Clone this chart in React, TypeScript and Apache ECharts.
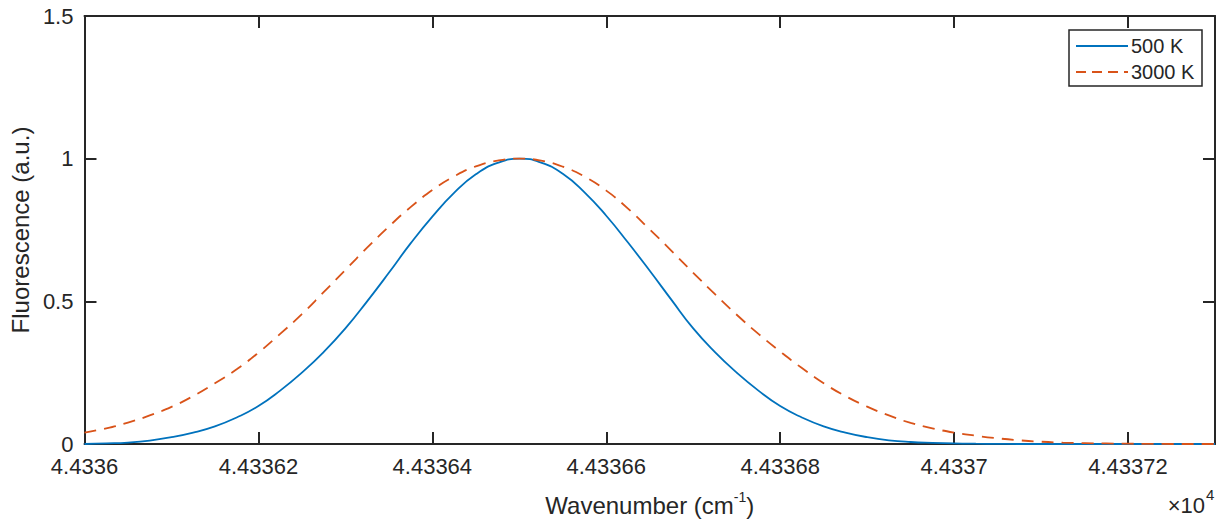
import React, { useEffect, useRef } from "react";
import * as echarts from "echarts";

const wavenumbers = [
  44336.0, 44336.025, 44336.05, 44336.075, 44336.1, 44336.125, 44336.15, 44336.175,
  44336.2, 44336.225, 44336.25, 44336.275, 44336.3, 44336.325, 44336.35, 44336.375,
  44336.4, 44336.425, 44336.45, 44336.475, 44336.5, 44336.525, 44336.55, 44336.575,
  44336.6, 44336.625, 44336.65, 44336.675, 44336.7, 44336.725, 44336.75, 44336.775,
  44336.8, 44336.825, 44336.85, 44336.875, 44336.9, 44336.925, 44336.95, 44336.975,
  44337.0, 44337.025, 44337.05, 44337.075, 44337.1, 44337.125, 44337.15, 44337.175,
  44337.2, 44337.225, 44337.25, 44337.275, 44337.3,
];

// Normalised fluorescence, 500 K
const fluor500K = [
  0.0, 0.002, 0.005, 0.012, 0.024, 0.04, 0.062, 0.093,
  0.133, 0.187, 0.25, 0.322, 0.405, 0.5, 0.6, 0.703,
  0.797, 0.88, 0.945, 0.985, 1.0, 0.986, 0.947, 0.882,
  0.8, 0.706, 0.607, 0.505, 0.405, 0.322, 0.25, 0.187,
  0.133, 0.093, 0.062, 0.04, 0.024, 0.013, 0.007, 0.004,
  0.002, 0.001, 0.0005, 0.0, 0.0, 0.0, 0.0, 0.0,
  0.0, 0.0, 0.0, 0.0, 0.0,
];

// Normalised fluorescence, 3000 K
const fluor3000K = [
  0.04, 0.055, 0.075, 0.1, 0.13, 0.168, 0.213, 0.262,
  0.32, 0.386, 0.455, 0.532, 0.61, 0.688, 0.762, 0.83,
  0.89, 0.938, 0.973, 0.993, 1.0, 0.993, 0.972, 0.937,
  0.888, 0.825, 0.752, 0.677, 0.6, 0.525, 0.453, 0.386,
  0.324, 0.266, 0.213, 0.168, 0.131, 0.1, 0.074, 0.055,
  0.04, 0.029, 0.02, 0.013, 0.008, 0.005, 0.003, 0.002,
  0.001, 0.0005, 0.0, 0.0, 0.0,
];

const seriesNames = ["500 K", "3000 K"];
const seriesColors = ["#0072BD", "#D95319"];
const xTickLabels = ["4.4336", "4.43362", "4.43364", "4.43366", "4.43368", "4.4337", "4.43372"];
const xTickStart = 44336;
const xTickStep = 0.2;

const FONT = "'Liberation Sans', Arial, Helvetica, sans-serif";
const INK = "#262626";

export default function App() {
  const ref = useRef<HTMLDivElement>(null);

  useEffect(() => {
    if (!ref.current) return;
    const chart = echarts.init(ref.current, null, { renderer: "svg" });

    const xFormatter = (v: number) => {
      const k = (v - xTickStart) / xTickStep;
      const r = Math.round(k);
      if (Math.abs(k - r) > 1e-4 || r < 0 || r >= xTickLabels.length) return "";
      return xTickLabels[r];
    };

    const axisLine = { show: true, onZero: false, lineStyle: { color: INK, width: 2 } };
    const axisTick = { show: true, inside: true, length: 12, lineStyle: { color: INK, width: 2 } };

    // Legend box drawn as graphic (MATLAB style: line sample, no markers)
    const lgX = 1069;
    const lgY = 30;
    const lgW = 133;
    const lgH = 56;
    const rowY = [46, 72];
    const legendGraphics: any[] = [
      {
        type: "rect",
        shape: { x: lgX, y: lgY, width: lgW, height: lgH },
        style: { fill: "#ffffff", stroke: INK, lineWidth: 1.5 },
        z: 100,
      },
    ];
    seriesNames.forEach((name, i) => {
      legendGraphics.push({
        type: "line",
        shape: { x1: lgX + 7, y1: rowY[i], x2: lgX + 59, y2: rowY[i] },
        style: { stroke: seriesColors[i], lineWidth: 1.8, lineDash: i === 1 ? [10, 6] : null },
        z: 101,
      });
      legendGraphics.push({
        type: "text",
        x: lgX + 62,
        y: rowY[i],
        style: { text: name, fill: INK, fontSize: 20, fontFamily: FONT, align: "left", verticalAlign: "middle" },
        z: 101,
      });
    });

    const option: any = {
      animation: false,
      backgroundColor: "#ffffff",
      grid: { left: 83, top: 16, right: 3, bottom: 81, containLabel: false },
      xAxis: [
        {
          type: "value",
          min: 44336,
          max: 44337.3,
          interval: 0.2,
          position: "bottom",
          axisLine,
          axisTick,
          splitLine: { show: false },
          axisLabel: {
            margin: 13,
            color: INK,
            fontSize: 22,
            lineHeight: 18,
            fontFamily: FONT,
            formatter: xFormatter,
          },
          name: "{a|Wavenumber (cm}{b|-1}{a|)}",
          nameLocation: "middle",
          nameGap: 46,
          nameTextStyle: {
            rich: {
              a: { fontSize: 24, lineHeight: 30, fontFamily: FONT, color: INK, verticalAlign: "middle" },
              b: { fontSize: 14, lineHeight: 14, fontFamily: FONT, color: INK, verticalAlign: "top" },
            },
          },
        },
        {
          type: "value",
          min: 44336,
          max: 44337.3,
          interval: 0.2,
          position: "top",
          axisLine,
          axisTick,
          splitLine: { show: false },
          axisLabel: { show: false },
        },
      ],
      yAxis: [
        {
          type: "value",
          min: 0,
          max: 1.5,
          interval: 0.5,
          position: "left",
          axisLine,
          axisTick,
          splitLine: { show: false },
          axisLabel: { margin: 11, color: INK, fontSize: 22, lineHeight: 16, fontFamily: FONT },
          name: "Fluorescence (a.u.)",
          nameLocation: "middle",
          nameRotate: 90,
          nameGap: 48,
          nameTextStyle: { fontSize: 24, fontFamily: FONT, color: INK },
        },
        {
          type: "value",
          min: 0,
          max: 1.5,
          interval: 0.5,
          position: "right",
          axisLine,
          axisTick,
          splitLine: { show: false },
          axisLabel: { show: false },
        },
      ],
      series: [
        {
          name: seriesNames[0],
          type: "line",
          xAxisIndex: 0,
          yAxisIndex: 0,
          data: wavenumbers.map((w, i) => [w, fluor500K[i]]),
          showSymbol: false,
          symbol: "none",
          smooth: 0.5,
          lineStyle: { color: seriesColors[0], width: 1.8 },
          itemStyle: { color: seriesColors[0] },
        },
        {
          name: seriesNames[1],
          type: "line",
          xAxisIndex: 0,
          yAxisIndex: 0,
          data: wavenumbers.map((w, i) => [w, fluor3000K[i]]),
          showSymbol: false,
          symbol: "none",
          smooth: 0.5,
          lineStyle: { color: seriesColors[1], width: 1.8, type: [12, 8] },
          itemStyle: { color: seriesColors[1] },
        },
      ],
      graphic: [
        ...legendGraphics,
        {
          type: "text",
          x: 1205,
          y: 505,
          style: { text: "×10", fill: INK, fontSize: 22, fontFamily: FONT, align: "right", verticalAlign: "middle" },
        },
        {
          type: "text",
          x: 1206,
          y: 494,
          style: { text: "4", fill: INK, fontSize: 15, fontFamily: FONT, align: "left", verticalAlign: "middle" },
        },
      ],
    };

    chart.setOption(option);
    return () => chart.dispose();
  }, []);

  return (
    <div
      ref={ref}
      style={{ position: "fixed", left: 0, top: 0, width: 1218, height: 525, background: "#fff" }}
    />
  );
}
